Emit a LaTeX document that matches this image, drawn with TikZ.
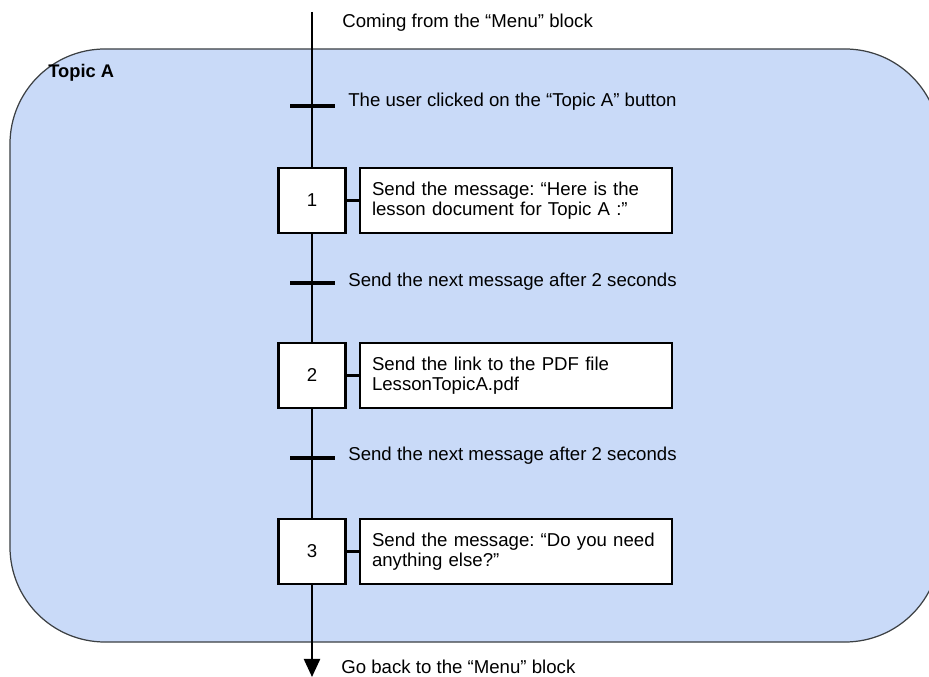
\documentclass[tikz,border=0pt]{standalone}
\usepackage{fontspec}
\setmainfont{Liberation Sans}
\usepackage{tikz}
\usetikzlibrary{arrows.meta, positioning}
\definecolor{topicblue}{HTML}{C9DAF8}
\definecolor{topicedge}{HTML}{3C4043}
\frenchspacing

\begin{document}
\begin{tikzpicture}[
    x=0.2mm, y=-0.2mm,
    font=\fontsize{10.6}{11.6}\selectfont,
    stepbox/.style={rectangle, draw=black, line width=1.5pt, fill=white, minimum width=1.34cm, minimum height=1.3cm, inner sep=0pt},
    actbox/.style={rectangle, draw=black, line width=1.5pt, fill=white, minimum width=6.24cm, minimum height=1.3cm, text width=5.76cm, align=left, inner sep=0pt},
    trans/.style={rectangle, fill=black, minimum width=0.9cm, minimum height=1.8pt, inner sep=0pt},
    lbl/.style={anchor=west, inner sep=0pt},
    flow/.style={line width=1.3pt},
]
\useasboundingbox (0,0) rectangle (929,677);

% Topic area
\node[draw=topicedge, line width=0.7pt, fill=topicblue, rounded corners=1.9cm, minimum width=18.6cm, minimum height=11.86cm, inner sep=0pt] (area) at (475,345.5) {};
\node[lbl, font=\fontsize{10.4}{12}\selectfont\bfseries] (topic) at (48,73) {Topic A};

% Entry and exit
\coordinate (top) at (312,12);
\coordinate (bottom) at (312,677);
\node[lbl] (comein) at (342,23) {Coming from the “Menu” block};
\node[lbl] (goout) at (341,667) {Go back to the “Menu” block};

% Transitions
\node[trans] (t0) at (312,106) {};
\node[trans] (t1) at (312,283) {};
\node[trans] (t2) at (312,458) {};
\node[lbl] (c0) at (348,102) {The user clicked on the “Topic A” button};
\node[lbl] (c1) at (348,282) {Send the next message after 2 seconds};
\node[lbl] (c2) at (348,456) {Send the next message after 2 seconds};

% Steps
\node[stepbox] (step1) at (312,200.5) {1};
\node[stepbox] (step2) at (312,375.5) {2};
\node[stepbox] (step3) at (312,551.5) {3};

% Actions
\node[actbox] (act1) at (516,200.5) {Send the message: “Here is the\\lesson document for Topic A :”};
\node[actbox] (act2) at (516,375.5) {Send the link to the PDF file\\LessonTopicA.pdf};
\node[actbox] (act3) at (516,551.5) {Send the message: “Do you need\\anything else?”};

% Edges
\draw[flow] (top) -- (t0);
\draw[flow] (t0) -- (step1);
\draw[flow] (step1) -- (t1);
\draw[flow] (t1) -- (step2);
\draw[flow] (step2) -- (t2);
\draw[flow] (t2) -- (step3);
\draw[flow, -{Triangle[length=3.6mm, width=3.2mm]}] (step3) -- (bottom);

\draw[flow] (step1) -- (act1);
\draw[flow] (step2) -- (act2);
\draw[flow] (step3) -- (act3);

\end{tikzpicture}
\end{document}
